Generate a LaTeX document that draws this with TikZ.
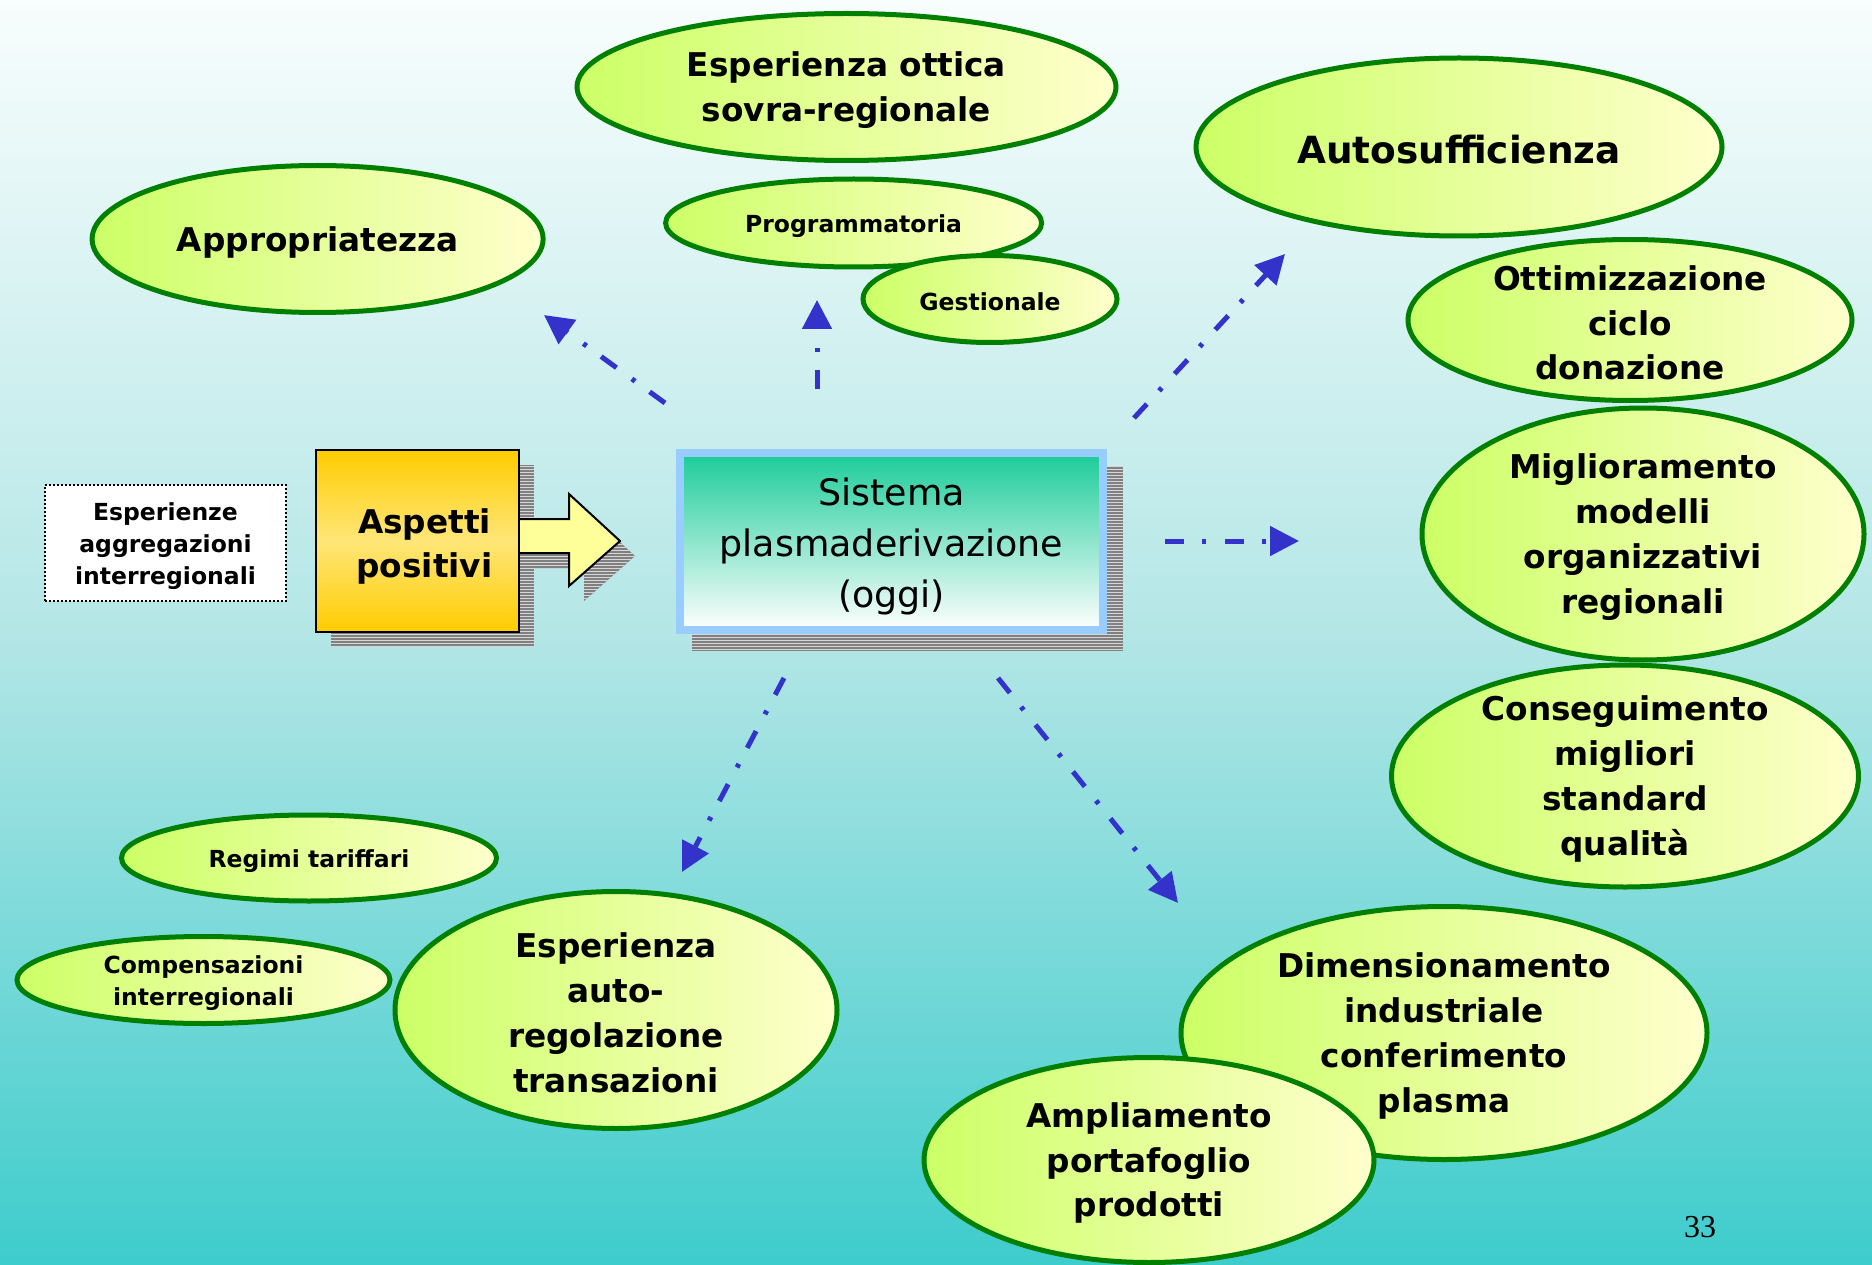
\documentclass[tikz,border=0pt]{standalone}
\usepackage{fontspec}
\setmainfont{DejaVu Sans}
\newfontfamily\numfont{Liberation Serif}
\usetikzlibrary{shapes.geometric,arrows.meta,patterns}
\definecolor{bgtop}{RGB}{248,253,253}
\definecolor{bgmid}{RGB}{180,230,230}
\definecolor{bgbot}{RGB}{62,204,204}
\definecolor{ellgreen}{RGB}{0,128,0}
\definecolor{ellL}{RGB}{204,255,102}
\definecolor{ellR}{RGB}{255,255,204}
\definecolor{arrowblue}{RGB}{51,51,204}
\definecolor{boxblue}{RGB}{153,204,255}
\definecolor{boxtop}{RGB}{28,204,153}
\definecolor{gold}{RGB}{255,204,0}
\definecolor{goldmid}{RGB}{255,230,120}
\definecolor{arryellow}{RGB}{255,255,153}
\definecolor{shadowgray}{RGB}{128,128,128}
\definecolor{shadowlight}{RGB}{215,215,215}
% \ellnode{textstyle}{name}{x,y}{width}{height}{text}
\newcommand{\ellnode}[6]{%
  \node[ellshape, minimum width=#4pt, minimum height=#5pt] (#2) at (#3) {};
  \node[#1] (#2T) at ([yshift=-3pt]#2.center) {#6};
}
\begin{document}
\begin{tikzpicture}[x=1pt,y=-1pt,
  ellshape/.style={ellipse, draw=ellgreen, line width=5pt, left color=ellL, right color=ellR, inner sep=0pt},
  bigtxt/.style={align=center, inner sep=0pt, font=\bfseries\fontsize{32.7}{44.8}\selectfont},
  hugetxt/.style={align=center, inner sep=0pt, font=\bfseries\fontsize{37.4}{44.8}\selectfont},
  smalltxt/.style={align=center, inner sep=0pt, font=\bfseries\fontsize{23.5}{32}\selectfont},
  dasharrow/.style={draw=arrowblue, line width=5pt, line cap=butt,
    dash pattern=on 19pt off 18pt on 4pt off 19pt, -{Triangle[length=29pt,width=29pt]}},
  shadowbox/.style={fill=shadowgray},
  shadowlines/.style={pattern=horizontal lines, pattern color=shadowlight}
]
\useasboundingbox (0,0) rectangle (1872,1265);
\fill[top color=bgtop, bottom color=bgbot, middle color=bgmid] (0,0) rectangle (1872,1265);

% ---- ellipses ----
\ellnode{bigtxt}{appr}{317.6,239}{451}{147}{Appropriatezza}
\ellnode{bigtxt}{ottica}{846.5,87}{539}{147}{Esperienza ottica\\sovra-regionale}
\ellnode{smalltxt}{progr}{853.6,223}{376}{88}{Programmatoria}
\ellnode{smalltxt}{gest}{990,299}{254}{87}{Gestionale}
\ellnode{hugetxt}{auto}{1459,147}{526}{178}{Autosufficienza}
\ellnode{bigtxt}{ottim}{1630,320}{444}{161}{Ottimizzazione\\ciclo\\donazione}
\ellnode{bigtxt}{cons}{1625,776}{467}{222}{Conseguimento\\migliori\\standard\\qualità}
\ellnode{bigtxt}{migl}{1643,534}{442}{252}{Miglioramento\\modelli\\organizzativi\\regionali}
\ellnode{bigtxt}{dim}{1444,1033}{526}{253}{Dimensionamento\\industriale\\conferimento\\plasma}
\ellnode{bigtxt}{ampl}{1149,1160}{450}{205}{Ampliamento\\portafoglio\\prodotti}
\ellnode{bigtxt}{autoreg}{616,1010}{442}{237}{Esperienza\\auto-\\regolazione\\transazioni}
\ellnode{smalltxt}{regimi}{309,858}{375}{86}{Regimi tariffari}
\ellnode{smalltxt}{comp}{203.5,980}{373}{87}{Compensazioni\\interregionali}

% ---- dotted box ----
\node[draw=black, line width=2pt, dash pattern=on 2pt off 2pt, fill=white, minimum width=241pt, minimum height=116pt,
  inner sep=0pt] (esper) at (165.5,543) {};
\node[smalltxt] (esperT) at (165.5,546) {Esperienze\\aggregazioni\\interregionali};

% ---- Aspetti positivi box with arrow ----
\fill[shadowbox] (331,465) rectangle (534,647);
\fill[shadowlines] (331,465) rectangle (534,647);
\fill[shadowbox] (534,534) -- (584,534) -- (584,509) -- (635,556) -- (584,601) -- (584,568) -- (534,568) -- cycle;
\fill[shadowlines] (534,534) -- (584,534) -- (584,509) -- (635,556) -- (584,601) -- (584,568) -- (534,568) -- cycle;
\draw[line width=2pt, fill=arryellow, line join=miter] (515,519) -- (569,519) -- (569,494) -- (620,541) -- (569,586) -- (569,553) -- (515,553);
\node[draw=black, line width=2pt, top color=gold, bottom color=gold, middle color=goldmid,
  minimum width=203pt, minimum height=182pt, inner sep=0pt] (asp) at (417.5,541) {};
\node[align=center, inner sep=0pt, font=\bfseries\fontsize{32.7}{44}\selectfont] (aspT) at (424.5,546) {Aspetti\\positivi};

% ---- central box ----
\fill[shadowbox] (692,466) rectangle (1123,651);
\fill[shadowlines] (692,466) rectangle (1123,651);
\node[draw=boxblue, line width=8pt, top color=boxtop, bottom color=white, minimum width=423pt, minimum height=177pt,
  inner sep=0pt] (sys) at (891.5,541.5) {};
\node[align=center, inner sep=0pt, font=\fontsize{36.4}{50.8}\selectfont] (sysT) at (891.5,546.5) {Sistema\\plasmaderivazione\\(oggi)};

% ---- dashed arrows ----
\coordinate (a1s) at (665,403); \coordinate (a1e) at (544,315);
\coordinate (a2s) at (817,389); \coordinate (a2e) at (817,300);
\coordinate (a3s) at (1134,418); \coordinate (a3e) at (1285,254);
\coordinate (a4s) at (1165,541); \coordinate (a4e) at (1299,541);
\coordinate (a5s) at (784,678); \coordinate (a5e) at (682,872);
\coordinate (a6s) at (998,678); \coordinate (a6e) at (1178,903);
\draw[dasharrow] (a1s) -- (a1e);
\draw[dasharrow] (a2s) -- (a2e);
\draw[dasharrow] (a3s) -- (a3e);
\draw[dasharrow] (a4s) -- (a4e);
\draw[dasharrow] (a5s) -- (a5e);
\draw[dasharrow] (a6s) -- (a6e);

% ---- page number ----
\node[font=\numfont\fontsize{32}{32}\selectfont, inner sep=0pt] (pg) at (1700,1227) {33};
\end{tikzpicture}
\end{document}
